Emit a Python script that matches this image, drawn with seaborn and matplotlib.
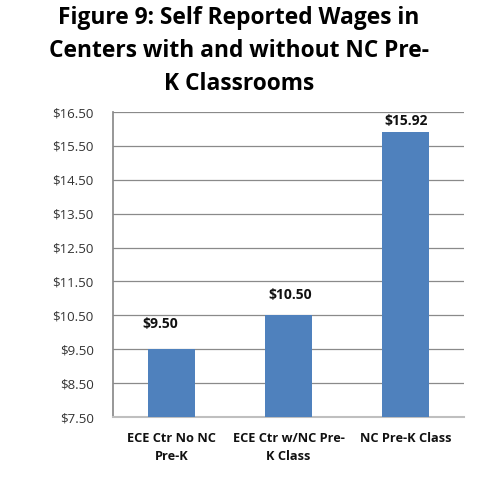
import matplotlib
matplotlib.use("Agg")
import matplotlib.pyplot as plt
import seaborn as sns
import pandas as pd
import numpy as np

categories = ["ECE Ctr No NC\nPre-K", "ECE Ctr w/NC Pre-\nK Class", "NC Pre-K Class"]
wages = [9.50, 10.50, 15.92]
bar_labels = ["$9.50", "$10.50", "$15.92"]
yticks = [7.5, 8.5, 9.5, 10.5, 11.5, 12.5, 13.5, 14.5, 15.5, 16.5]
title = "Figure 9: Self Reported Wages in\nCenters with and without NC Pre-\nK Classrooms"

# label offsets (points) as placed in the original
label_dx = [-8, 1, 0.5]
label_dy = [18, 14.5, 8]

sns.set_theme(style="white")
plt.rcParams['font.family'] = ['Open Sans', 'DejaVu Sans']

df = pd.DataFrame({"cat": categories, "wage": wages})

fig = plt.figure(figsize=(4.78, 4.98), dpi=100)
ax = fig.add_axes([113/478, 1-417/498, (464-113)/478, (417-112)/498])

sns.barplot(data=df, x="cat", y="wage", color="#4F81BD", saturation=1, width=0.4,
            ax=ax, zorder=3, edgecolor="none", linewidth=0)

ax.set_ylim(7.5, 16.5)
ax.set_yticks(yticks)
ax.set_yticklabels([f"${v:.2f}" for v in yticks], fontsize=9.5, color="#333333")
ax.set_xlim(-0.5, 2.5)
ax.tick_params(axis="y", length=0, pad=14)
ax.tick_params(axis="x", length=0, pad=11)
for lbl in ax.get_xticklabels():
    lbl.set_fontweight("bold")
    lbl.set_fontsize(9.2)
    lbl.set_color("#111111")
    lbl.set_linespacing(1.45)
ax.set_xlabel("")
ax.set_ylabel("")
ax.grid(axis="y", color="#8a8a8a", linewidth=0.9, zorder=0)
ax.set_axisbelow(True)
for s in ["top", "right"]:
    ax.spines[s].set_visible(False)
ax.spines["left"].set_color("#8a8a8a")
ax.spines["bottom"].set_color("#bfbfbf")
ax.spines["bottom"].set_linewidth(1.5)

for i, (v, t) in enumerate(zip(wages, bar_labels)):
    ax.annotate(t, (i, v), xytext=(label_dx[i], label_dy[i]), textcoords="offset points",
                ha="center", va="center", fontsize=10, fontweight="bold", color="#111111")

fig.text(0.5, 0.988, title, ha="center", va="top", fontsize=16.4, fontweight="bold",
         linespacing=1.5, color="#000000")

fig.savefig("out.png", dpi=100)
